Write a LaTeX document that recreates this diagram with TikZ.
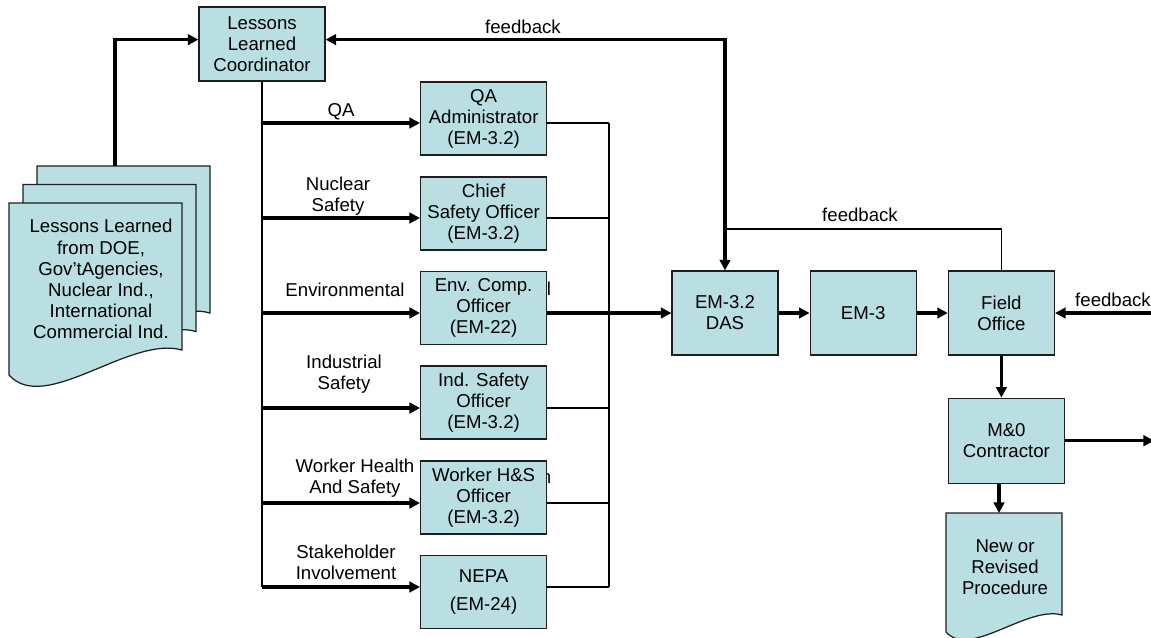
\documentclass[tikz,border=0pt]{standalone}
\usepackage{fontspec}
\setmainfont{Liberation Sans}
\usetikzlibrary{arrows.meta,positioning,calc}
\definecolor{boxfill}{HTML}{B9DFE3}
\definecolor{edge}{HTML}{1E1E1E}

\begin{document}
\begin{tikzpicture}[x=0.02cm,y=-0.02cm,node distance=0.62cm,>={Triangle[length=6pt,width=6pt]},
  every node/.style={font=\fontsize{10.6}{12}\selectfont},
  box/.style={draw=edge,line width=0.7pt,fill=boxfill,align=center,inner sep=1pt,minimum width=2.52cm,minimum height=1.46cm},
  bigbox/.style={box,minimum width=2.12cm,minimum height=1.68cm},
  docshape/.style={fill=boxfill,draw=edge,line width=0.7pt},
  flow/.style={line width=1.8pt,->},
  link/.style={line width=0.7pt},
  lbl/.style={align=center,inner sep=0pt}]
\useasboundingbox (0,0) rectangle (1151,637);

% stack of source documents
\foreach \s in {2,1,0}
  \filldraw[docshape,shift={(14*\s,-18.5*\s)}] (9,203) -- (182,203) -- (182,350) .. controls (130,335) and (45,415) .. (9,375) -- cycle;
\node[lbl] (src) at (101,279) {Lessons Learned\\from DOE,\\Gov’tAgencies,\\Nuclear Ind.,\\International\\Commercial Ind.};
\coordinate (srctop) at (115,166);

\node[box,minimum height=1.48cm] (coord) at (262,44) {Lessons\\Learned\\Coordinator};
\draw[flow] (srctop) |- ([yshift=2.5pt]coord.west);

% main chain
\node[bigbox] (das) at (725,313) {EM-3.2\\DAS};
\node[bigbox,right=of das] (em3) {EM-3};
\node[bigbox,right=of em3] (field) {Field\\Office};
\draw[flow] (das) -- (em3);
\draw[flow] (em3) -- (field);

% feedback loops
\draw[flow,<->] ([yshift=2.5pt]coord.east) -| (das.north);
\node[lbl] (fbtop) at (523,27) {feedback};
\coordinate (fbjoin) at (725,229);
\draw[link] (field.north) |- (fbjoin);
\node[lbl] (fbmid) at (860,215) {feedback};
\coordinate (fbin) at (1153,313);
\draw[flow] (fbin) -- (field.east);
\node[lbl] (fbright) at (1113,300) {feedback};

\node[box,minimum width=2.32cm,minimum height=1.70cm,below=0.84cm of field,xshift=0.1cm] (mo) {M\&0\\Contractor};
\draw[flow] (field.south) -- (field.south |- mo.north);
\coordinate (out) at (1154,0);
\draw[flow] (mo.east) -- (mo.east -| out);

\filldraw[docshape] (946,513) -- (1062,513) -- (1062,615) .. controls (1027,605) and (970,659) .. (946,632) -- cycle;
\node[lbl] (newproc) at (1005,567) {New or\\Revised\\Procedure};
\coordinate (newtop) at (999,513);
\draw[flow] (mo.south -| newtop) -- (newtop);

% offices
\node[lbl] (envfrag) at (549,289) {l};
\node[lbl] (whsfrag) at (546,478) {n};
\coordinate (bus) at (609,123);
\foreach \id/\ya/\d/\txt in {qa/123/-4.5/{QA\\Administrator\\(EM-3.2)},
    chief/218/-4.5/{Chief\\Safety Officer\\(EM-3.2)},
    env/313/-5/{Env. Comp.\\Officer\\(EM-22)},
    ind/408/-5.5/{Ind. Safety\\Officer\\(EM-3.2)},
    whs/503/-5.5/{Worker H\&S\\Officer\\(EM-3.2)},
    nepa/587/5/{NEPA\\[4pt](EM-24)}}{
  \coordinate (\id-in) at (420,\ya);
  \node[box,anchor=west] (\id) at ($(\id-in)+(0,\d)$) {\txt};
  \draw[flow] (coord.south |- \id-in) -- (\id-in);
  \draw[link] (\id-in -| \id.east) -- (\id-in -| bus);
}
\draw[link] (coord.south) -- (coord.south |- nepa-in);
\draw[link] (qa-in -| bus) -- (nepa-in -| bus);
\draw[flow] (env-in -| env.east) -- (das.west);

\foreach \id/\x/\y/\txt in {qa/341/112/QA, chief/338/196/{Nuclear\\Safety},
    env/345/290/Environmental, ind/344/374/{Industrial\\Safety},
    whs/355/478/{Worker Health\\And Safety}, nepa/346/562/{Stakeholder\\Involvement}}
  \node[lbl] (\id-lbl) at (\x,\y) {\txt};
\end{tikzpicture}
\end{document}
